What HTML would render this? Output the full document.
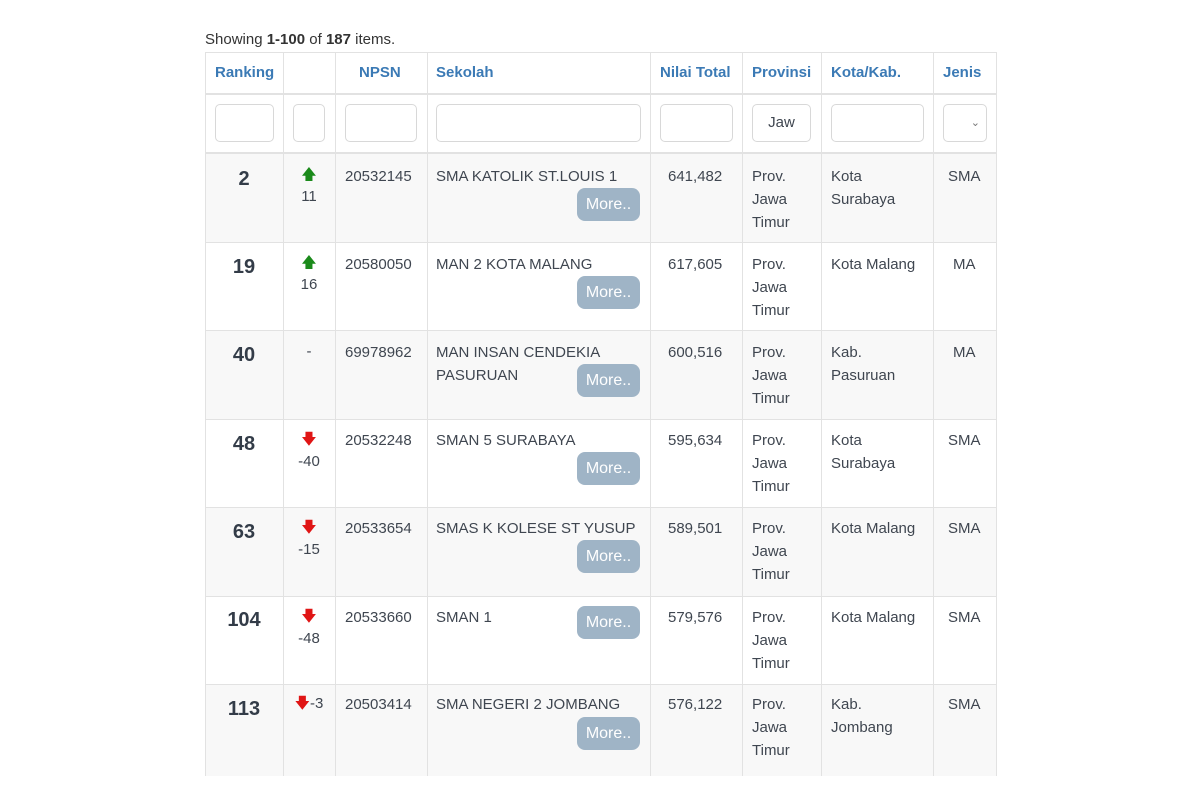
<!DOCTYPE html>
<html><head><meta charset="utf-8"><style>
body{margin:0;width:1200px;height:800px;background:#fff;font-family:"Liberation Sans",sans-serif;color:#3f4650;position:relative;overflow:hidden}
.a{position:absolute}
.vl{position:absolute;top:52px;height:724px;width:1px;background:#e2e2e2}
.hl{position:absolute;left:205px;width:791px;height:1px;background:#e2e2e2}
.hd{position:absolute;top:64px;font-size:15px;font-weight:bold;color:#3b7ab5}
.inp{position:absolute;top:104px;height:38px;border:1px solid #d8d8d8;border-radius:5px;box-sizing:border-box;background:#fff}
.t{position:absolute;font-size:15px;line-height:23px;color:#3f4650}
.rk{position:absolute;font-size:20px;font-weight:bold;color:#333c48;width:78px;text-align:center;left:205px}
.more{position:absolute;left:577px;width:63px;height:33px;border-radius:8px;background:#9fb4c6;color:#fff;font-size:16px;line-height:33px;text-align:center}
.up{color:#1b8a1b}.dn{color:#e01515}
.ch{position:absolute;left:283px;width:52px;text-align:center;font-size:15px;line-height:22px}
</style></head><body>
<div class="a" style="left:205px;top:31px;font-size:15px;color:#333">Showing <b>1-100</b> of <b>187</b> items.</div>
<div class="a" style="left:205px;top:153px;width:791px;height:89px;background:#f8f8f8"></div>
<div class="a" style="left:205px;top:330px;width:791px;height:89px;background:#f8f8f8"></div>
<div class="a" style="left:205px;top:507px;width:791px;height:89px;background:#f8f8f8"></div>
<div class="a" style="left:205px;top:684px;width:791px;height:92px;background:#f8f8f8"></div>
<div class="vl" style="left:205px"></div><div class="vl" style="left:283px"></div><div class="vl" style="left:335px"></div><div class="vl" style="left:427px"></div><div class="vl" style="left:650px"></div><div class="vl" style="left:742px"></div><div class="vl" style="left:821px"></div><div class="vl" style="left:933px"></div><div class="vl" style="left:996px"></div>
<div class="hl" style="top:52px"></div>
<div class="hl" style="top:93px;height:2px"></div>
<div class="hl" style="top:152px;height:2px"></div>
<div class="hl" style="top:242px"></div><div class="hl" style="top:330px"></div><div class="hl" style="top:419px"></div><div class="hl" style="top:507px"></div><div class="hl" style="top:596px"></div><div class="hl" style="top:684px"></div>
<div class="hd" style="left:215px">Ranking</div>
<div class="hd" style="left:359px">NPSN</div>
<div class="hd" style="left:436px">Sekolah</div>
<div class="hd" style="left:660px">Nilai Total</div>
<div class="hd" style="left:752px">Provinsi</div>
<div class="hd" style="left:831px">Kota/Kab.</div>
<div class="hd" style="left:943px">Jenis</div>
<div class="inp" style="left:215px;width:59px"></div>
<div class="inp" style="left:293px;width:32px"></div>
<div class="inp" style="left:345px;width:72px"></div>
<div class="inp" style="left:436px;width:205px"></div>
<div class="inp" style="left:660px;width:73px"></div>
<div class="inp" style="left:752px;width:59px;font-size:15px;line-height:36px;text-align:center">Jaw</div>
<div class="inp" style="left:831px;width:93px"></div>
<div class="inp" style="left:943px;width:44px;font-size:11px;line-height:36px;text-align:right;padding-right:6px;color:#777">&#8964;</div>

<div class="rk" style="top:168px">2</div>
<div class="ch" style="top:164px"><span class="up">&#129093;</span><br>11</div>
<div class="t" style="left:345px;top:165px">20532145</div>
<div class="t" style="left:436px;top:165px">SMA KATOLIK ST.LOUIS 1</div>
<div class="more" style="top:188px">More..</div>
<div class="t" style="left:668px;top:165px">641,482</div>
<div class="t" style="left:752px;top:165px">Prov.<br>Jawa<br>Timur</div>
<div class="t" style="left:831px;top:165px">Kota<br>Surabaya</div>
<div class="t" style="left:948px;top:165px">SMA</div>

<div class="rk" style="top:256px">19</div>
<div class="ch" style="top:252px"><span class="up">&#129093;</span><br>16</div>
<div class="t" style="left:345px;top:253px">20580050</div>
<div class="t" style="left:436px;top:253px">MAN 2 KOTA MALANG</div>
<div class="more" style="top:276px">More..</div>
<div class="t" style="left:668px;top:253px">617,605</div>
<div class="t" style="left:752px;top:253px">Prov.<br>Jawa<br>Timur</div>
<div class="t" style="left:831px;top:253px">Kota Malang</div>
<div class="t" style="left:953px;top:253px">MA</div>

<div class="rk" style="top:344px">40</div>
<div class="ch" style="top:341px">-</div>
<div class="t" style="left:345px;top:341px">69978962</div>
<div class="t" style="left:436px;top:341px">MAN INSAN CENDEKIA<br>PASURUAN</div>
<div class="more" style="top:364px">More..</div>
<div class="t" style="left:668px;top:341px">600,516</div>
<div class="t" style="left:752px;top:341px">Prov.<br>Jawa<br>Timur</div>
<div class="t" style="left:831px;top:341px">Kab.<br>Pasuruan</div>
<div class="t" style="left:953px;top:341px">MA</div>

<div class="rk" style="top:433px">48</div>
<div class="ch" style="top:429px"><span class="dn">&#129095;</span><br>-40</div>
<div class="t" style="left:345px;top:429px">20532248</div>
<div class="t" style="left:436px;top:429px">SMAN 5 SURABAYA</div>
<div class="more" style="top:452px">More..</div>
<div class="t" style="left:668px;top:429px">595,634</div>
<div class="t" style="left:752px;top:429px">Prov.<br>Jawa<br>Timur</div>
<div class="t" style="left:831px;top:429px">Kota<br>Surabaya</div>
<div class="t" style="left:948px;top:429px">SMA</div>

<div class="rk" style="top:521px">63</div>
<div class="ch" style="top:517px"><span class="dn">&#129095;</span><br>-15</div>
<div class="t" style="left:345px;top:517px">20533654</div>
<div class="t" style="left:436px;top:517px">SMAS K KOLESE ST YUSUP</div>
<div class="more" style="top:540px">More..</div>
<div class="t" style="left:668px;top:517px">589,501</div>
<div class="t" style="left:752px;top:517px">Prov.<br>Jawa<br>Timur</div>
<div class="t" style="left:831px;top:517px">Kota Malang</div>
<div class="t" style="left:948px;top:517px">SMA</div>

<div class="rk" style="top:609px">104</div>
<div class="ch" style="top:606px"><span class="dn">&#129095;</span><br>-48</div>
<div class="t" style="left:345px;top:606px">20533660</div>
<div class="t" style="left:436px;top:606px">SMAN 1</div>
<div class="more" style="top:606px">More..</div>
<div class="t" style="left:668px;top:606px">579,576</div>
<div class="t" style="left:752px;top:606px">Prov.<br>Jawa<br>Timur</div>
<div class="t" style="left:831px;top:606px">Kota Malang</div>
<div class="t" style="left:948px;top:606px">SMA</div>

<div class="rk" style="top:698px">113</div>
<div class="ch" style="top:693px"><span class="dn">&#129095;</span>-3</div>
<div class="t" style="left:345px;top:693px">20503414</div>
<div class="t" style="left:436px;top:693px">SMA NEGERI 2 JOMBANG</div>
<div class="more" style="top:717px">More..</div>
<div class="t" style="left:668px;top:693px">576,122</div>
<div class="t" style="left:752px;top:693px">Prov.<br>Jawa<br>Timur</div>
<div class="t" style="left:831px;top:693px">Kab.<br>Jombang</div>
<div class="t" style="left:948px;top:693px">SMA</div>
</body></html>
